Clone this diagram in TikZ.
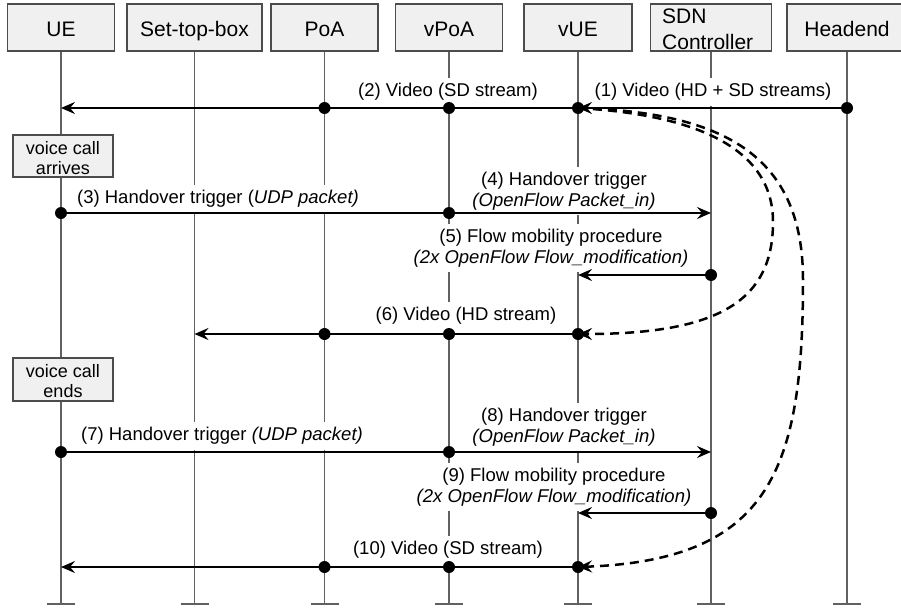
\documentclass[tikz,border=0pt]{standalone}
\usepackage{fontspec}
\setmainfont{Liberation Sans}
\usetikzlibrary{arrows.meta}

\begin{document}
\begin{tikzpicture}[x=1pt,y=-1pt,
  hdr/.style={draw=black!70, line width=1.3pt, fill=black!6, minimum width=#1, minimum height=47pt, inner sep=0pt},
  hdrtext/.style={anchor=base, inner sep=0pt, font=\fontsize{21}{25}\selectfont},
  life/.style={draw=black!62, line width=1.4pt},
  lifeend/.style={draw=black!62, line width=2.2pt},
  msg/.style={line width=2.7pt, -{Stealth[length=14pt,width=12pt,inset=5pt]}},
  plainmsg/.style={line width=2.7pt},
  flowmove/.style={line width=2.5pt, dash pattern=on 9pt off 6pt, -{Stealth[length=14pt,width=12pt,inset=5pt]}},
  lbl/.style={fill=white, inner xsep=2pt, inner ysep=5pt, align=center, font=\fontsize{18.5}{21.5}\selectfont},
  callbox/.style={draw=black!70, line width=1.3pt, fill=black!6, minimum width=100pt, minimum height=#1, inner sep=0pt},
  calltext/.style={anchor=north, inner sep=0pt, align=center, font=\fontsize{18}{20}\selectfont},
]
\fill[white] (0,0) rectangle (901,610);
\useasboundingbox (0,0) rectangle (901,610);

% participant headers
\node[hdr=107pt] (hUE)   at (61,27.5)  {};
\node[hdr=135pt] (hSTB)  at (194.5,27.5) {};
\node[hdr=107pt] (hPoA)  at (324.5,27.5) {};
\node[hdr=107pt] (hvPoA) at (449,27.5) {};
\node[hdr=108pt] (hvUE)  at (578,27.5) {};
\node[hdr=121pt] (hSDN)  at (711,27.5) {};
\node[hdr=120pt] (hHE)   at (847,27.5) {};

\node[hdrtext] (tUE)   at (61,36.5)  {UE};
\node[hdrtext] (tSTB)  at (194.5,36.5) {Set-top-box};
\node[hdrtext] (tPoA)  at (324.5,36.5) {PoA};
\node[hdrtext] (tvPoA) at (449,36.5) {vPoA};
\node[hdrtext] (tvUE)  at (578,36.5) {vUE};
\node[anchor=north west, inner sep=0pt, align=left, font=\fontsize{21}{26}\selectfont] (tSDN) at (662,8.5) {SDN\\Controller};
\node[hdrtext] (tHE)   at (847,36.5) {Headend};

% message rows
\coordinate (bot) at (0,604);
\coordinate (r1)  at (0,108);
\coordinate (r3)  at (0,213);
\coordinate (r5)  at (0,275);
\coordinate (r6)  at (0,334);
\coordinate (r7)  at (0,452);
\coordinate (r9)  at (0,513);
\coordinate (r10) at (0,567);

% lifelines
\foreach \n in {hUE,hSTB,hPoA,hvPoA,hvUE,hSDN,hHE}{
  \draw[life] (\n.south) -- (\n |- bot) coordinate (e\n);
  \draw[lifeend] (e\n) ++(-14,0) -- ++(28,0);
}

% local events at the UE
\node[callbox=42pt] (vca) at (63,156) {};
\node[calltext] (vcat) at (63,141.5) {voice call\\arrives};
\node[callbox=43pt] (vce) at (63,379.5) {};
\node[calltext] (vcet) at (63,364) {voice call\\ends};

% message labels
\node[lbl] (l1)  at (713,92)  {(1) Video (HD + SD streams)};
\node[lbl] (l2)  at (448,92)  {(2) Video (SD stream)};
\node[lbl] (l3)  at (218,199) {(3) Handover trigger (\textit{UDP packet)}};
\node[lbl] (l4)  at (564,191) {(4) Handover trigger\\\textit{(OpenFlow Packet\_in)}};
\node[lbl] (l5)  at (551,248) {(5) Flow mobility procedure\\\textit{(2x OpenFlow Flow\_modification)}};
\node[lbl] (l6)  at (466,316) {(6) Video (HD stream)};
\node[lbl] (l7)  at (222,436) {(7) Handover trigger \textit{(UDP packet)}};
\node[lbl] (l8)  at (564,427) {(8) Handover trigger\\\textit{(OpenFlow Packet\_in)}};
\node[lbl] (l9)  at (554,487) {(9) Flow mobility procedure\\\textit{(2x OpenFlow Flow\_modification)}};
\node[lbl] (l10) at (448,550) {(10) Video (SD stream)};

% messages
\draw[msg] (hHE |- r1) -- (hvUE |- r1);
\draw[msg] (hvUE |- r1) -- (hUE |- r1);
\draw[plainmsg] (hUE |- r3) -- (hvPoA |- r3);
\draw[msg] (hvPoA |- r3) -- (hSDN |- r3);
\draw[msg] (hSDN |- r5) -- (hvUE |- r5);
\draw[msg] (hvUE |- r6) -- (hSTB |- r6);
\draw[plainmsg] (hUE |- r7) -- (hvPoA |- r7);
\draw[msg] (hvPoA |- r7) -- (hSDN |- r7);
\draw[msg] (hSDN |- r9) -- (hvUE |- r9);
\draw[msg] (hvUE |- r10) -- (hUE |- r10);

% flow moves of the video stream
\draw[flowmove] (hvUE |- r1) .. controls (700,115) and (773,150) .. (773,222)
  .. controls (773,300) and (720,334) .. (hvUE |- r6);
\draw[flowmove] (hvUE |- r1) .. controls (730,112) and (803,160) .. (803,280)
  .. controls (803,470) and (770,560) .. (hvUE |- r10);

% anchor points on the lifelines
\fill (hPoA |- r1) circle (6pt);
\fill (hvPoA |- r1) circle (6pt);
\fill (hvUE |- r1) circle (6pt);
\fill (hHE |- r1) circle (6pt);
\fill (hUE |- r3) circle (6pt);
\fill (hvPoA |- r3) circle (6pt);
\fill (hSDN |- r5) circle (6pt);
\fill (hPoA |- r6) circle (6pt);
\fill (hvPoA |- r6) circle (6pt);
\fill (hvUE |- r6) circle (6pt);
\fill (hUE |- r7) circle (6pt);
\fill (hvPoA |- r7) circle (6pt);
\fill (hSDN |- r9) circle (6pt);
\fill (hPoA |- r10) circle (6pt);
\fill (hvPoA |- r10) circle (6pt);
\fill (hvUE |- r10) circle (6pt);
\end{tikzpicture}
\end{document}
